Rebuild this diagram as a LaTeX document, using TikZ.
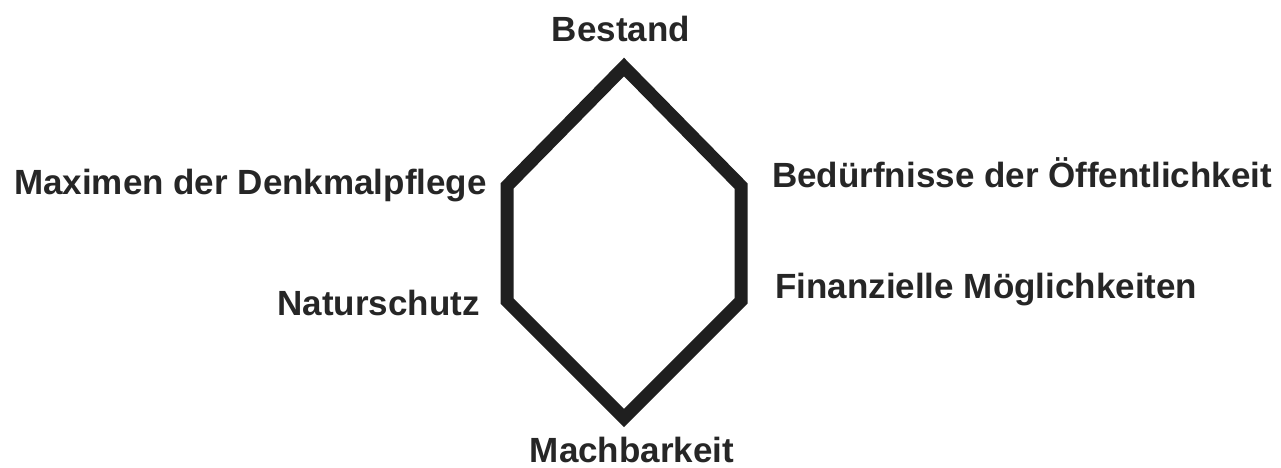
\documentclass[tikz,border=0pt]{standalone}
\usepackage{fontspec}
\setmainfont{Liberation Sans}
\begin{document}
\begin{tikzpicture}[x=1pt,y=-1pt,
  lbl/.style={inner sep=0pt,font=\fontsize{35}{40}\selectfont\bfseries,text=black!85},
  hexline/.style={line width=13pt,draw=black!88,line join=miter}]
\useasboundingbox (0,0) rectangle (1281,468);
\coordinate (t) at (624,67);
\coordinate (ur) at (741,186);
\coordinate (lr) at (741,301);
\coordinate (b) at (624,418);
\coordinate (ll) at (507,301);
\coordinate (ul) at (507,186);
\draw[hexline] (t) -- (ur) -- (lr) -- (b) -- (ll) -- (ul) -- cycle;
\node[lbl,anchor=base] (n1) at (621,42) {Bestand};
\node[lbl,anchor=base east] (n2) at (487,194) {Maximen der Denkmalpflege};
\node[lbl,anchor=base east] (n3) at (480,315) {Naturschutz};
\node[lbl,anchor=base west] (n4) at (772,187) {Bedürfnisse der Öffentlichkeit};
\node[lbl,anchor=base west] (n5) at (775,298) {Finanzielle Möglichkeiten};
\node[lbl,anchor=base] (n6) at (632,462) {Machbarkeit};
\end{tikzpicture}
\end{document}
